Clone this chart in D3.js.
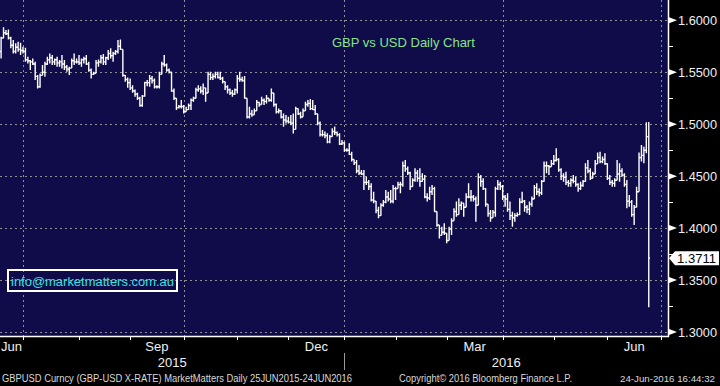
<!DOCTYPE html>
<html lang="en">
<head>
<meta charset="UTF-8">
<title>GBP vs USD Daily Chart</title>
<script src="https://cdn.jsdelivr.net/npm/d3@7"></script>
<style>
  body { margin: 0; background: #000; }
  svg { display: block; }
</style>
</head>
<body>
<script>
// daily GBPUSD bars (18 Jun 2015 .. 24 Jun 2016, weekdays)
const highs = [
  1.5842,1.5932,1.5906,1.5912,1.5842,1.5810,1.5778,1.5794,1.5784,1.5746,
  1.5736,1.5649,1.5617,1.5633,1.5601,1.5473,1.5489,1.5569,1.5601,1.5649,
  1.5681,1.5665,1.5633,1.5649,1.5617,1.5665,1.5617,1.5569,1.5553,1.5633,
  1.5681,1.5633,1.5665,1.5633,1.5649,1.5665,1.5601,1.5537,1.5505,1.5617,
  1.5623,1.5665,1.5675,1.5649,1.5713,1.5730,1.5697,1.5713,1.5810,1.5816,
  1.5720,1.5473,1.5450,1.5441,1.5376,1.5334,1.5302,1.5264,1.5280,1.5409,
  1.5425,1.5473,1.5463,1.5441,1.5376,1.5505,1.5601,1.5665,1.5585,1.5537,
  1.5505,1.5344,1.5250,1.5184,1.5232,1.5184,1.5168,1.5200,1.5248,1.5264,
  1.5352,1.5376,1.5366,1.5392,1.5352,1.5505,1.5505,1.5489,1.5505,1.5505,
  1.5505,1.5457,1.5410,1.5376,1.5344,1.5328,1.5344,1.5473,1.5505,1.5457,
  1.5463,1.5250,1.5168,1.5136,1.5152,1.5232,1.5216,1.5264,1.5248,1.5280,
  1.5250,1.5344,1.5300,1.5200,1.5152,1.5136,1.5104,1.5088,1.5071,1.5088,
  1.5104,1.5168,1.5152,1.5120,1.5152,1.5216,1.5232,1.5242,1.5232,1.5184,
  1.5100,1.5025,1.4945,1.4929,1.4913,1.4897,1.4961,1.4977,1.4929,1.4913,
  1.4848,1.4832,1.4768,1.4816,1.4736,1.4660,1.4656,1.4608,1.4559,1.4559,
  1.4495,1.4463,1.4431,1.4351,1.4260,1.4206,1.4238,1.4271,1.4367,1.4351,
  1.4367,1.4415,1.4399,1.4447,1.4447,1.4640,1.4656,1.4592,1.4543,1.4479,
  1.4576,1.4559,1.4576,1.4527,1.4511,1.4335,1.4399,1.4415,1.4399,1.4160,
  1.4030,1.4014,1.4046,1.3950,1.4014,1.4094,1.4190,1.4255,1.4287,1.4255,
  1.4240,1.4335,1.4431,1.4367,1.4319,1.4303,1.4527,1.4511,1.4479,1.4383,
  1.4230,1.4174,1.4174,1.4399,1.4463,1.4447,1.4415,1.4319,1.4335,1.4255,
  1.4158,1.4142,1.4150,1.4287,1.4351,1.4271,1.4222,1.4255,1.4303,1.4415,
  1.4431,1.4383,1.4463,1.4640,1.4640,1.4608,1.4656,1.4704,1.4768,1.4672,
  1.4576,1.4527,1.4543,1.4463,1.4479,1.4511,1.4495,1.4431,1.4447,1.4463,
  1.4624,1.4656,1.4576,1.4543,1.4656,1.4728,1.4736,1.4688,1.4720,1.4624,
  1.4511,1.4463,1.4479,1.4656,1.4624,1.4576,1.4527,1.4463,1.4319,1.4271,
  1.4222,1.4399,1.4728,1.4800,1.4784,1.5019,1.5020
];
const lows = [
  1.5633,1.5828,1.5858,1.5816,1.5730,1.5681,1.5681,1.5697,1.5665,1.5681,
  1.5601,1.5585,1.5521,1.5569,1.5425,1.5344,1.5352,1.5470,1.5457,1.5569,
  1.5585,1.5569,1.5569,1.5553,1.5553,1.5537,1.5521,1.5505,1.5473,1.5540,
  1.5569,1.5585,1.5569,1.5553,1.5585,1.5569,1.5505,1.5441,1.5473,1.5490,
  1.5553,1.5585,1.5569,1.5569,1.5617,1.5633,1.5601,1.5665,1.5681,1.5713,
  1.5457,1.5409,1.5352,1.5328,1.5302,1.5264,1.5232,1.5168,1.5168,1.5264,
  1.5366,1.5360,1.5392,1.5344,1.5344,1.5344,1.5480,1.5553,1.5505,1.5489,
  1.5312,1.5232,1.5136,1.5152,1.5152,1.5104,1.5120,1.5136,1.5136,1.5216,
  1.5248,1.5312,1.5296,1.5280,1.5216,1.5300,1.5425,1.5425,1.5441,1.5441,
  1.5425,1.5392,1.5328,1.5296,1.5280,1.5264,1.5280,1.5296,1.5409,1.5409,
  1.5248,1.5055,1.5055,1.5071,1.5090,1.5130,1.5168,1.5190,1.5184,1.5200,
  1.5216,1.5216,1.5168,1.5104,1.5104,1.5055,1.4975,1.5007,1.5007,1.4991,
  1.4911,1.4950,1.5088,1.5055,1.5071,1.5130,1.5168,1.5136,1.5136,1.5088,
  1.4991,1.4881,1.4881,1.4864,1.4816,1.4816,1.4880,1.4897,1.4881,1.4800,
  1.4800,1.4736,1.4736,1.4704,1.4640,1.4608,1.4527,1.4511,1.4511,1.4367,
  1.4415,1.4367,1.4255,1.4238,1.4142,1.4094,1.4120,1.4206,1.4238,1.4255,
  1.4238,1.4238,1.4271,1.4380,1.4335,1.4399,1.4543,1.4511,1.4367,1.4399,
  1.4447,1.4447,1.4399,1.4447,1.4287,1.4255,1.4271,1.4319,1.4158,1.4014,
  1.3901,1.3930,1.3934,1.3853,1.3880,1.3934,1.4070,1.4110,1.4130,1.4174,
  1.4110,1.4200,1.4287,1.4255,1.4255,1.4062,1.4220,1.4399,1.4367,1.4206,
  1.4110,1.4062,1.4100,1.4110,1.4367,1.4367,1.4271,1.4206,1.4158,1.4078,
  1.4014,1.4062,1.4110,1.4126,1.4238,1.4158,1.4142,1.4126,1.4206,1.4280,
  1.4319,1.4303,1.4319,1.4447,1.4527,1.4511,1.4590,1.4608,1.4640,1.4543,
  1.4463,1.4447,1.4415,1.4399,1.4399,1.4431,1.4399,1.4351,1.4367,1.4399,
  1.4447,1.4527,1.4463,1.4479,1.4520,1.4620,1.4624,1.4624,1.4608,1.4463,
  1.4415,1.4399,1.4399,1.4460,1.4447,1.4495,1.4399,1.4190,1.4206,1.4110,
  1.4030,1.4200,1.4350,1.4640,1.4624,1.4720,1.3238
];
const closes = [
  1.5830,1.5880,1.5870,1.5830,1.5760,1.5700,1.5740,1.5720,1.5710,1.5700,
  1.5620,1.5610,1.5600,1.5580,1.5460,1.5360,1.5470,1.5500,1.5580,1.5620,
  1.5640,1.5600,1.5620,1.5590,1.5600,1.5580,1.5550,1.5530,1.5540,1.5610,
  1.5600,1.5600,1.5590,1.5620,1.5630,1.5580,1.5520,1.5480,1.5490,1.5590,
  1.5600,1.5640,1.5600,1.5640,1.5680,1.5660,1.5680,1.5700,1.5750,1.5720,
  1.5470,1.5430,1.5400,1.5350,1.5320,1.5290,1.5250,1.5180,1.5270,1.5400,
  1.5400,1.5440,1.5420,1.5360,1.5360,1.5480,1.5580,1.5570,1.5520,1.5500,
  1.5320,1.5250,1.5160,1.5170,1.5170,1.5120,1.5140,1.5180,1.5230,1.5250,
  1.5330,1.5340,1.5320,1.5350,1.5300,1.5480,1.5450,1.5460,1.5480,1.5450,
  1.5440,1.5410,1.5360,1.5330,1.5300,1.5290,1.5330,1.5440,1.5430,1.5420,
  1.5250,1.5070,1.5100,1.5090,1.5130,1.5210,1.5190,1.5230,1.5220,1.5250,
  1.5230,1.5300,1.5190,1.5120,1.5130,1.5070,1.5040,1.5030,1.5020,1.5010,
  1.4950,1.5150,1.5100,1.5070,1.5130,1.5190,1.5200,1.5150,1.5140,1.5100,
  1.5010,1.4900,1.4900,1.4890,1.4830,1.4880,1.4930,1.4920,1.4900,1.4810,
  1.4820,1.4750,1.4750,1.4710,1.4660,1.4630,1.4550,1.4530,1.4520,1.4440,
  1.4440,1.4400,1.4270,1.4260,1.4170,1.4120,1.4220,1.4250,1.4300,1.4280,
  1.4260,1.4380,1.4380,1.4420,1.4420,1.4600,1.4570,1.4530,1.4400,1.4460,
  1.4530,1.4480,1.4450,1.4470,1.4300,1.4290,1.4350,1.4380,1.4160,1.4030,
  1.3930,1.3960,1.3950,1.3880,1.3990,1.4070,1.4160,1.4130,1.4220,1.4240,
  1.4200,1.4300,1.4300,1.4300,1.4280,1.4220,1.4490,1.4450,1.4380,1.4230,
  1.4140,1.4100,1.4150,1.4380,1.4420,1.4400,1.4300,1.4280,1.4180,1.4120,
  1.4100,1.4120,1.4130,1.4250,1.4260,1.4200,1.4180,1.4230,1.4280,1.4390,
  1.4350,1.4340,1.4450,1.4600,1.4600,1.4590,1.4620,1.4650,1.4660,1.4560,
  1.4500,1.4490,1.4440,1.4430,1.4460,1.4450,1.4420,1.4380,1.4410,1.4450,
  1.4580,1.4550,1.4480,1.4520,1.4620,1.4680,1.4640,1.4660,1.4620,1.4480,
  1.4440,1.4430,1.4460,1.4520,1.4550,1.4510,1.4420,1.4260,1.4250,1.4130,
  1.4200,1.4350,1.4680,1.4700,1.4750,1.4880,1.3711
];
const firstOpen = 1.5700;
const lastPrice = 1.3711;
const priceTicks = [1.30, 1.35, 1.40, 1.45, 1.50, 1.55, 1.60];
const labelMonths = ["Mar", "Jun", "Sep", "Dec"];
const title = "GBP vs USD Daily Chart";
const contact = "info@marketmatters.com.au";
const footer = ["GBPUSD Curncy (GBP-USD X-RATE) MarketMatters  Daily 25JUN2015-24JUN2016",
                "Copyright\u00A9 2016 Bloomberg Finance L.P.",
                "24-Jun-2016 16:44:32"];

const W = 720, H = 386;
const plotR = 668, plotB = 336;

// weekday calendar (FX trades every weekday)
const days = [];
for (let d = new Date(2015, 5, 18); d <= new Date(2016, 6, 1); d.setDate(d.getDate() + 1)) {
    if (d.getDay() % 6) days.push(new Date(d));
}
const bars = highs.map((h, i) => ({
    date: days[i], i: i, high: h, low: lows[i], close: closes[i],
    open: i ? closes[i - 1] : firstOpen
}));

const x = d3.scaleLinear().domain([-0.45, 273.9]).range([0, plotR]);
const y = d3.scaleLinear().domain([1.3, 1.6]).range([332, 20.3]);

const svg = d3.select("body").append("svg")
    .attr("width", W).attr("height", H)
    .style("font-family", "'Liberation Sans', Arial, sans-serif");

svg.append("rect").attr("width", W).attr("height", H).attr("fill", "#000");
svg.append("rect").attr("width", plotR).attr("height", plotB).attr("fill", "#0f0c49");

// month boundaries
const monthStarts = days.map((d, i) => i).filter(i => i > 0 && days[i].getMonth() !== days[i - 1].getMonth());
const quarterStarts = monthStarts.filter(i => days[i].getMonth() % 3 === 0);

const grid = svg.append("g").attr("stroke", "#8f8f8f").attr("stroke-dasharray", "2,3").attr("stroke-width", 1);
grid.selectAll("line.h").data(priceTicks).enter().append("line")
    .attr("x1", 0).attr("x2", plotR)
    .attr("y1", d => Math.round(y(d)) + 0.5).attr("y2", d => Math.round(y(d)) + 0.5);
grid.selectAll("line.v").data(quarterStarts).enter().append("line")
    .attr("y1", 0).attr("y2", plotB)
    .attr("x1", d => Math.round(x(d)) + 0.5).attr("x2", d => Math.round(x(d)) + 0.5);

// title and contact box
svg.append("text").attr("x", 332).attr("y", 47).attr("font-size", 13)
    .attr("fill", "#86e486").text(title);
svg.append("rect").attr("x", 8).attr("y", 270).attr("width", 169).attr("height", 21)
    .attr("fill", "none").attr("stroke", "#fff").attr("stroke-width", 2);
svg.append("text").attr("x", 11).attr("y", 285.5).attr("font-size", 13)
    .attr("textLength", 163).attr("lengthAdjust", "spacingAndGlyphs")
    .attr("fill", "#34e2e2").text(contact);

// OHLC bars
svg.append("defs").append("clipPath").attr("id", "plotclip")
    .append("rect").attr("width", plotR).attr("height", plotB);
svg.append("g").attr("clip-path", "url(#plotclip)")
    .selectAll("path").data(bars).enter().append("path")
    .attr("fill", "none").attr("stroke", "#fff").attr("stroke-width", 1.4)
    .attr("d", d => {
        const cx = x(d.i);
        return `M${cx - 1.3},${y(d.open)}H${cx}M${cx},${y(d.high)}V${y(d.low)}M${cx},${y(d.close)}H${cx + 1.3}`;
    });

// axes lines
svg.append("line").attr("x1", plotR + 0.5).attr("x2", plotR + 0.5).attr("y1", 0).attr("y2", plotB + 1)
    .attr("stroke", "#fff").attr("stroke-width", 1.5);
svg.append("line").attr("x1", 0).attr("x2", plotR + 1).attr("y1", plotB + 0.5).attr("y2", plotB + 0.5)
    .attr("stroke", "#fff").attr("stroke-width", 1.5);

// right price axis
const ra = svg.append("g");
ra.selectAll("path.tri").data(priceTicks).enter().append("path")
    .attr("fill", "#fff")
    .attr("d", d => `M${plotR + 1},${y(d) - 3}L${plotR + 9},${y(d)}L${plotR + 1},${y(d) + 3}Z`);
ra.selectAll("line.minor").data(priceTicks.slice(0, -1).map(d => d + 0.025)).enter().append("line")
    .attr("x1", plotR + 1).attr("x2", plotR + 5)
    .attr("y1", d => Math.round(y(d)) + 0.5).attr("y2", d => Math.round(y(d)) + 0.5)
    .attr("stroke", "#fff");
ra.selectAll("text").data(priceTicks).enter().append("text")
    .attr("x", plotR + 10).attr("y", d => y(d) + 5)
    .attr("font-size", 13).attr("fill", "#f0f0f0")
    .attr("textLength", 39).attr("lengthAdjust", "spacingAndGlyphs")
    .text(d3.format(".4f"));

// last price flag
const ly = y(lastPrice);
svg.append("path").attr("fill", "#fff")
    .attr("d", `M${plotR + 1},${ly}L${plotR + 7},${ly - 7}H719V${ly + 7}H${plotR + 7}Z`);
svg.append("text").attr("x", plotR + 9).attr("y", ly + 5).attr("font-size", 13)
    .attr("fill", "#000").attr("textLength", 39).attr("lengthAdjust", "spacingAndGlyphs")
    .text(d3.format(".4f")(lastPrice));

// bottom time axis
const ba = svg.append("g");
ba.selectAll("line").data(monthStarts.filter(i => x(i) < plotR)).enter().append("line")
    .attr("x1", d => Math.round(x(d)) + 0.5).attr("x2", d => Math.round(x(d)) + 0.5)
    .attr("y1", plotB).attr("y2", plotB + 4).attr("stroke", "#fff");

const fmtMonth = d3.timeFormat("%b");
const months = d3.groups(days.map((d, i) => ({ d, i })), o => o.d.getFullYear() * 12 + o.d.getMonth());
const monthSpans = months.map(([k, arr]) => {
    const start = arr[0].i === 0 ? 0 : x(arr[0].i);
    const nextIdx = arr[arr.length - 1].i + 1;
    const end = Math.min(plotR, nextIdx < days.length ? x(nextIdx) : plotR);
    return { name: fmtMonth(arr[0].d), mid: (start + end) / 2, start, end };
}).filter(m => m.start < plotR && labelMonths.includes(m.name));
ba.selectAll("text.m").data(monthSpans).enter().append("text")
    .attr("x", d => d.mid).attr("y", 351).attr("text-anchor", "middle")
    .attr("font-size", 13).attr("fill", "#f0f0f0").text(d => d.name);

const janIdx = monthStarts.find(i => days[i].getMonth() === 0);
const years = [
    { name: days[0].getFullYear(), mid: x(janIdx) / 2 },
    { name: days[janIdx].getFullYear(), mid: (x(janIdx) + plotR) / 2 }
];
ba.selectAll("text.y").data(years).enter().append("text")
    .attr("x", d => d.mid).attr("y", 367).attr("text-anchor", "middle")
    .attr("font-size", 13).attr("fill", "#f0f0f0").text(d => d.name);
ba.append("line").attr("x1", Math.round(x(janIdx)) + 0.5).attr("x2", Math.round(x(janIdx)) + 0.5)
    .attr("y1", 353).attr("y2", 370).attr("stroke", "#9a9a9a");

// footer
const fpos = [[2, 350, 10], [399, 173, 10], [620, 95, 9.5]];
svg.selectAll("text.f").data(footer).enter().append("text")
    .attr("x", (d, i) => fpos[i][0]).attr("y", 382)
    .attr("textLength", (d, i) => fpos[i][1]).attr("lengthAdjust", "spacingAndGlyphs")
    .attr("font-size", (d, i) => fpos[i][2])
    .attr("fill", "#d8d8d8").text(d => d);
</script>
</body>
</html>
